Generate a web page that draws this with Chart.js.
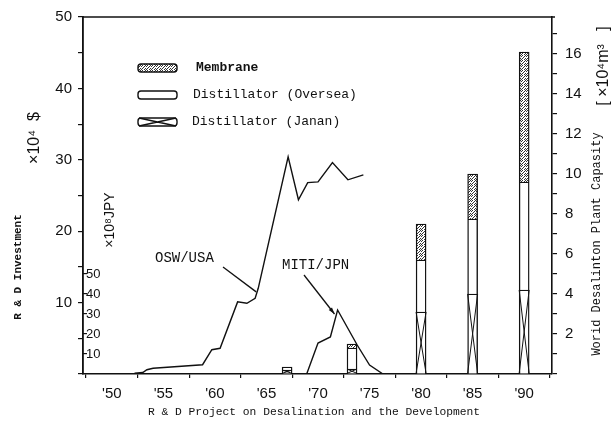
<!DOCTYPE html>
<html>
<head>
<meta charset="utf-8">
<script src="https://cdn.jsdelivr.net/npm/chart.js@4.4.1/dist/chart.umd.min.js"></script>
<style>
  html, body { margin: 0; padding: 0; background: #fff; }
</style>
</head>
<body>
<canvas id="myChart" width="615" height="429"></canvas>
<script>
// R & D investment, OSW/USA (x10^4 $)
const oswYears  = [52.2, 53.0, 53.4, 54.0, 58.8, 59.7, 60.5, 62.2, 63.1, 63.9, 64.2, 67.1, 68.1, 69.0, 70.0, 71.4, 72.9, 74.4];
const oswValues = [0.1,  0.2,  0.6,  0.8,  1.3,  3.4,  3.6,  10.1, 9.9,  10.6, 12.0, 30.4, 24.4, 26.8, 26.9, 29.6, 27.2, 27.9];

// R & D investment, MITI/JPN (x10^8 JPY)
const mitiYears  = [68.9, 70.0, 71.2, 71.9, 73.8, 75.0, 76.3];
const mitiValues = [0,    15.5, 18.5, 32.0, 14.5, 4.5,  0];

// World desalination plant capacity (x10^4 m3)
const capYears  = [67, 73.3, 80, 85, 90];
const jananCap  = [0.2,  0.25, 3.1, 4.0, 4.2];
const overseaCap = [0.15, 1.05, 2.6, 3.75, 5.4];
const membraneCap = [null, 0.2, 1.8, 2.25, 6.5];

const yearTicks = [50, 55, 60, 65, 70, 75, 80, 85, 90];
const jpyTicks = [10, 20, 30, 40, 50];

const canvas = document.getElementById('myChart');
const ctx = canvas.getContext('2d');

function stipple() {
    const c = document.createElement('canvas');
    c.width = 5; c.height = 5;
    const g = c.getContext('2d');
    g.fillStyle = '#fff';
    g.fillRect(0, 0, 5, 5);
    g.fillStyle = '#333';
    [[0,0],[2,0],[1,1],[4,1],[3,2],[0,3],[2,3],[4,4],[1,4]].forEach(p => g.fillRect(p[0], p[1], 1, 1));
    return ctx.createPattern(c, 'repeat');
}
const membraneFill = stipple();

const pts = (xs, ys) => xs.map((x, i) => ({x: x, y: ys[i]}));

function vtext(text, x, y, font) {
    ctx.save();
    ctx.translate(x, y);
    ctx.rotate(-Math.PI / 2);
    ctx.font = font;
    ctx.textAlign = 'center';
    ctx.textBaseline = 'middle';
    ctx.fillText(text, 0, 0);
    ctx.restore();
}

function cross(c, l, t, r, b) {
    c.beginPath();
    c.moveTo(l, t); c.lineTo(r, b);
    c.moveTo(r, t); c.lineTo(l, b);
    c.stroke();
}

const decorations = {
    id: 'decorations',
    afterDatasetsDraw(chart) {
        // X marks inside the Japanese distillator segments
        const c = chart.ctx;
        const meta = chart.getDatasetMeta(2);
        c.save();
        c.strokeStyle = '#111';
        c.lineWidth = 1;
        meta.data.forEach(bar => {
            const p = bar.getProps(['x', 'y', 'base', 'width'], true);
            cross(c, p.x - p.width / 2, p.y, p.x + p.width / 2, p.base);
        });
        c.restore();
    },
    afterDraw(chart) {
        const c = chart.ctx;
        const a = chart.chartArea;
        const sx = chart.scales.x;
        c.save();
        c.fillStyle = '#111';
        c.strokeStyle = '#111';

        // top frame line
        c.lineWidth = 1.5;
        c.beginPath();
        c.moveTo(a.left, a.top);
        c.lineTo(a.right + 3, a.top);
        c.stroke();

        // legend
        const items = [
            {label: 'Membrane', fill: membraneFill, bold: true, y: 68, tx: 196},
            {label: 'Distillator (Oversea)', fill: '#fff', y: 95, tx: 193},
            {label: 'Distillator (Janan)', fill: '#fff', x: true, y: 122, tx: 192}
        ];
        items.forEach(it => {
            c.lineWidth = 1.4;
            c.beginPath();
            c.roundRect(138, it.y - 4, 39, 8, 3);
            c.fillStyle = it.fill;
            c.fill();
            c.stroke();
            if (it.x) cross(c, 139, it.y - 4, 176, it.y + 4);
            c.fillStyle = '#111';
            c.font = (it.bold ? 'bold ' : '') + '13px "Liberation Mono"';
            c.textAlign = 'left';
            c.textBaseline = 'middle';
            c.fillText(it.label, it.tx, it.y);
        });

        // series labels with leader lines
        const sy = chart.scales.y, sj = chart.scales.yJ;
        c.font = '14px "Liberation Mono"';
        c.fillText('OSW/USA', 155, 258);
        c.fillText('MITI/JPN', 282, 265);
        c.lineWidth = 1.3;
        const ox = sx.getPixelForValue(64.0), oy = sy.getPixelForValue(11.5);
        c.beginPath();
        c.moveTo(223, 267);
        c.lineTo(ox, oy);
        c.stroke();
        const mx = sx.getPixelForValue(71.6), my = sj.getPixelForValue(30);
        c.beginPath();
        c.moveTo(304, 275);
        c.lineTo(mx, my);
        c.stroke();
        const ang = Math.atan2(my - 275, mx - 304);
        c.beginPath();
        c.moveTo(mx, my);
        c.lineTo(mx - 7 * Math.cos(ang - 0.3), my - 7 * Math.sin(ang - 0.3));
        c.lineTo(mx - 7 * Math.cos(ang + 0.3), my - 7 * Math.sin(ang + 0.3));
        c.closePath();
        c.fill();

        // axis titles
        c.restore();
        ctx.fillStyle = '#111';
        vtext('R & D Investment', 18, 267, 'bold 11px "Liberation Mono"');
        vtext('\u00d710\u2074  $', 35, 138, '16px "Liberation Sans"');
        vtext('\u00d710\u2078JPY', 110, 220, '14px "Liberation Sans"');
        vtext('Worid Desalinton Plant Capasity', 597, 244, '12px "Liberation Mono"');
        vtext('[ \u00d710\u2074m\u00b3   ]', 604, 66, '16px "Liberation Sans"');
        ctx.font = '11.3px "Liberation Mono"';
        ctx.textAlign = 'center';
        ctx.textBaseline = 'middle';
        ctx.fillText('R & D Project on Desalination and the Development', 314, 412);
    }
};

const axisGrid = {display: true, drawOnChartArea: false, color: '#111', lineWidth: 1.2, tickLength: 5};
const axisBorder = {display: true, color: '#111', width: 1.6};

new Chart(ctx, {
    type: 'bar',
    data: {
        datasets: [
            {
                type: 'line', label: 'OSW/USA', data: pts(oswYears, oswValues), yAxisID: 'y',
                borderColor: '#111', borderWidth: 1.4, pointRadius: 0, tension: 0, fill: false
            },
            {
                type: 'line', label: 'MITI/JPN', data: pts(mitiYears, mitiValues), yAxisID: 'yJ',
                borderColor: '#111', borderWidth: 1.4, pointRadius: 0, tension: 0, fill: false
            },
            {
                label: 'Distillator (Janan)', data: pts(capYears, jananCap), yAxisID: 'yR', stack: 'cap',
                backgroundColor: '#fff', borderColor: '#111', borderWidth: 1.4, barThickness: 10
            },
            {
                label: 'Distillator (Oversea)', data: pts(capYears, overseaCap), yAxisID: 'yR', stack: 'cap',
                backgroundColor: '#fff', borderColor: '#111', borderWidth: 1.4, barThickness: 10
            },
            {
                label: 'Membrane', data: pts(capYears, membraneCap), yAxisID: 'yR', stack: 'cap',
                backgroundColor: membraneFill, borderColor: '#111', borderWidth: 1.4, barThickness: 10
            }
        ]
    },
    options: {
        responsive: false,
        animation: false,
        devicePixelRatio: 1,
        layout: {padding: {top: 17, left: 0, right: 0, bottom: 0}},
        plugins: {legend: {display: false}, tooltip: {enabled: false}},
        scales: {
            x: {
                type: 'linear', min: 47.2, max: 92.7, stacked: true, offset: false,
                grid: Object.assign({}, axisGrid, {tickLength: 4}),
                border: axisBorder,
                afterBuildTicks: s => { s.ticks = yearTicks.map(v => ({value: v})); },
                afterFit: s => { s.height = 55; },
                ticks: {
                    color: '#111', padding: 7, autoSkip: false, maxRotation: 0,
                    font: {family: '"Liberation Sans"', size: 15},
                    callback: v => "'" + v
                }
            },
            y: {
                position: 'left', weight: 10, min: 0, max: 50,
                grid: axisGrid, border: axisBorder,
                afterFit: s => { s.width = 83; },
                ticks: {
                    stepSize: 5, color: '#111', padding: 6,
                    font: {family: '"Liberation Sans"', size: 15},
                    callback: v => (v > 0 && v % 10 === 0) ? v : ''
                }
            },
            yJ: {
                position: 'left', weight: 0, min: 0, max: 178.5,
                grid: Object.assign({}, axisGrid, {tickLength: -4}),
                border: axisBorder,
                afterBuildTicks: s => { s.ticks = jpyTicks.map(v => ({value: v})); },
                afterFit: s => { s.width = 0; },
                ticks: {
                    mirror: true, color: '#111', padding: 3,
                    font: {family: '"Liberation Sans"', size: 13}
                }
            },
            yR: {
                position: 'right', min: 0, max: 17.85, stacked: true,
                grid: axisGrid, border: axisBorder,
                afterFit: s => { s.width = 63; },
                ticks: {
                    stepSize: 1, includeBounds: false, color: '#111', padding: 8,
                    font: {family: '"Liberation Sans"', size: 15},
                    callback: v => (v > 0 && v % 2 === 0) ? v : ''
                }
            }
        }
    },
    plugins: [decorations]
});
</script>
</body>
</html>
